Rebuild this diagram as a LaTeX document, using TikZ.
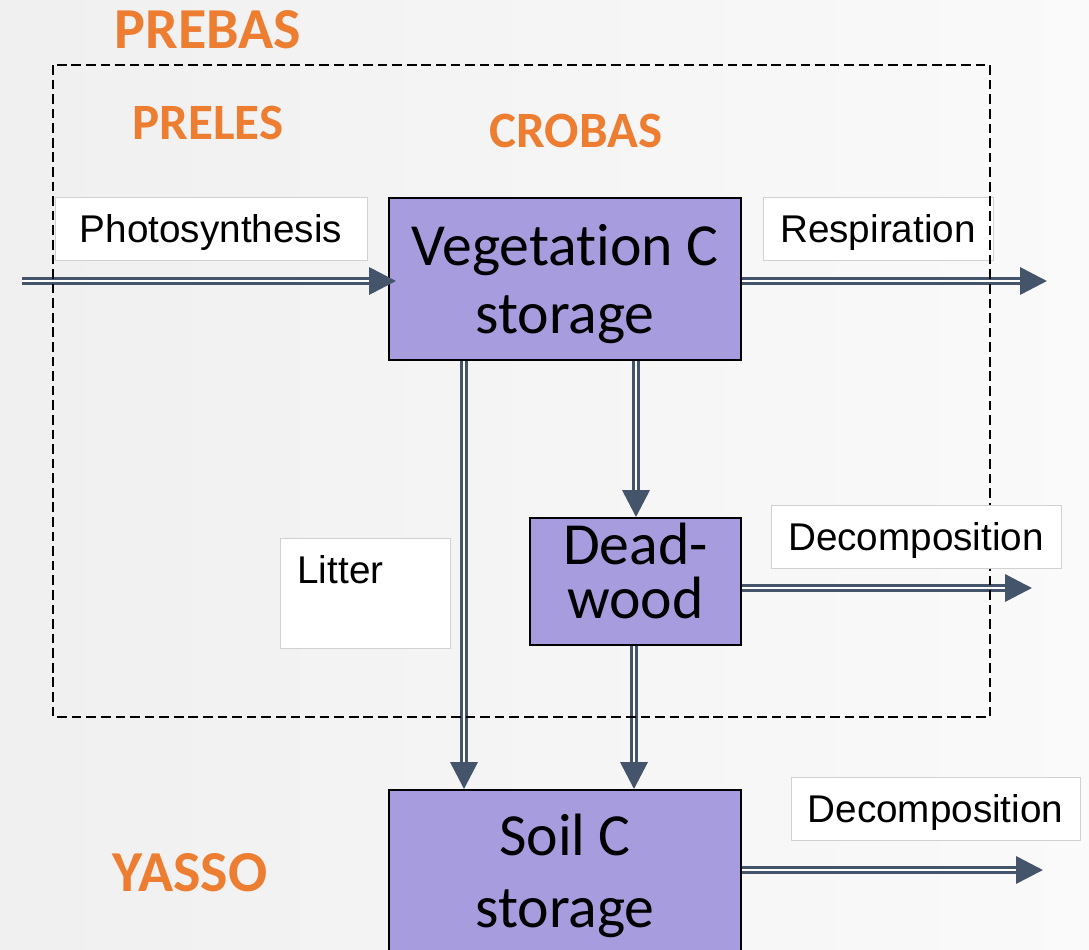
\documentclass[tikz,border=0pt]{standalone}
\usepackage{fontspec}
\setmainfont{Carlito}[Ligatures=NoCommon]
\newfontfamily\arialfont{Liberation Sans}
\usetikzlibrary{arrows.meta}
\definecolor{poolfill}{HTML}{A69CDE}
\definecolor{flowcol}{HTML}{44546A}
\definecolor{modelcol}{HTML}{ED7D31}
\begin{document}
\begin{tikzpicture}[x=0.02cm, y=-0.02cm,
    pool/.style={draw=black, line width=1.1pt, fill=poolfill, align=center, inner sep=0pt},
    proc/.style={draw=black!18, line width=0.5pt, fill=white, inner sep=0pt, minimum height=1.26cm,
        text height=15.8pt, text depth=0pt, font=\arialfont\fontsize{22}{26}\selectfont},
    flow/.style={draw=flowcol, line width=2pt, double=white, double distance=1.1pt,
        -{Triangle[length=0.54cm, width=0.54cm]}},
    model/.style={text=modelcol, font=\bfseries\fontsize{29}{34}\selectfont},
    frame/.style={dash pattern=on 5.5pt off 2.8pt, line width=0.8pt}]
    \useasboundingbox (0,0) rectangle (1089,950);
    \shade[left color=black!6, right color=black!2] (0,0) rectangle (1089,950);

    \node[model, font=\bfseries\fontsize{33}{38}\selectfont] (prebas) at (208,30) {PREBAS};
    \node[model] (preles) at (208,123) {PRELES};
    \node[model] (crobas) at (576,131) {CROBAS};
    \node[model, font=\bfseries\fontsize{33}{38}\selectfont] (yasso) at (190,873) {YASSO};

    \node[pool, minimum width=7.04cm, minimum height=3.24cm, text depth=0pt, font=\fontsize{34}{39}\selectfont] (veg) at (565,279) {Vegetation C\\storage};
    \node[pool, minimum width=4.22cm, minimum height=2.54cm, text depth=12pt, font=\fontsize{34}{31}\selectfont] (dead) at (635.5,581.5) {Dead-\\wood};
    \node[pool, minimum width=7.04cm, minimum height=3.44cm, font=\fontsize{34}{41}\selectfont] (soil) at (565,876) {Soil C\\storage};

    \node[proc, minimum width=6.24cm] (photo) at (211,228.5) {Photosynthesis};
    \node[proc, minimum width=4.6cm] (resp) at (878,229) {Respiration};
    \node[proc, anchor=north west, text width=2.72cm, inner xsep=0.34cm, align=left,
        text height=0.9cm, text depth=1.3cm] (litter) at (280,538) {Litter};
    \node[proc, minimum width=5.78cm] (decsoil) at (935.5,808.5) {Decomposition};

    \coordinate (src) at (22,281);
    \coordinate (respend) at (1047,281);
    \coordinate (deadend) at (1032,588);
    \coordinate (soilend) at (1043,870);
    \coordinate (litx) at (464,0);
    \coordinate (deadx) at (636,0);
    \coordinate (soilx) at (634,0);

    \draw[flow, shorten >=-0.16cm] (src) -- (src -| veg.west);
    \draw[flow] (veg.east |- src) -- (respend);
    \draw[flow] (litx |- veg.south) -- (litx |- soil.north);
    \draw[flow] (deadx |- veg.south) -- (deadx |- dead.north);
    \draw[flow] (soilx |- dead.south) -- (soilx |- soil.north);
    \draw[flow] (dead.east |- deadend) -- (deadend);
    \draw[flow] (soil.east |- soilend) -- (soilend);

    \draw[frame] (53,65) rectangle (990,717);
    \node[proc, minimum width=5.8cm] (decdead) at (916,536.5) {Decomposition};
\end{tikzpicture}
\end{document}
